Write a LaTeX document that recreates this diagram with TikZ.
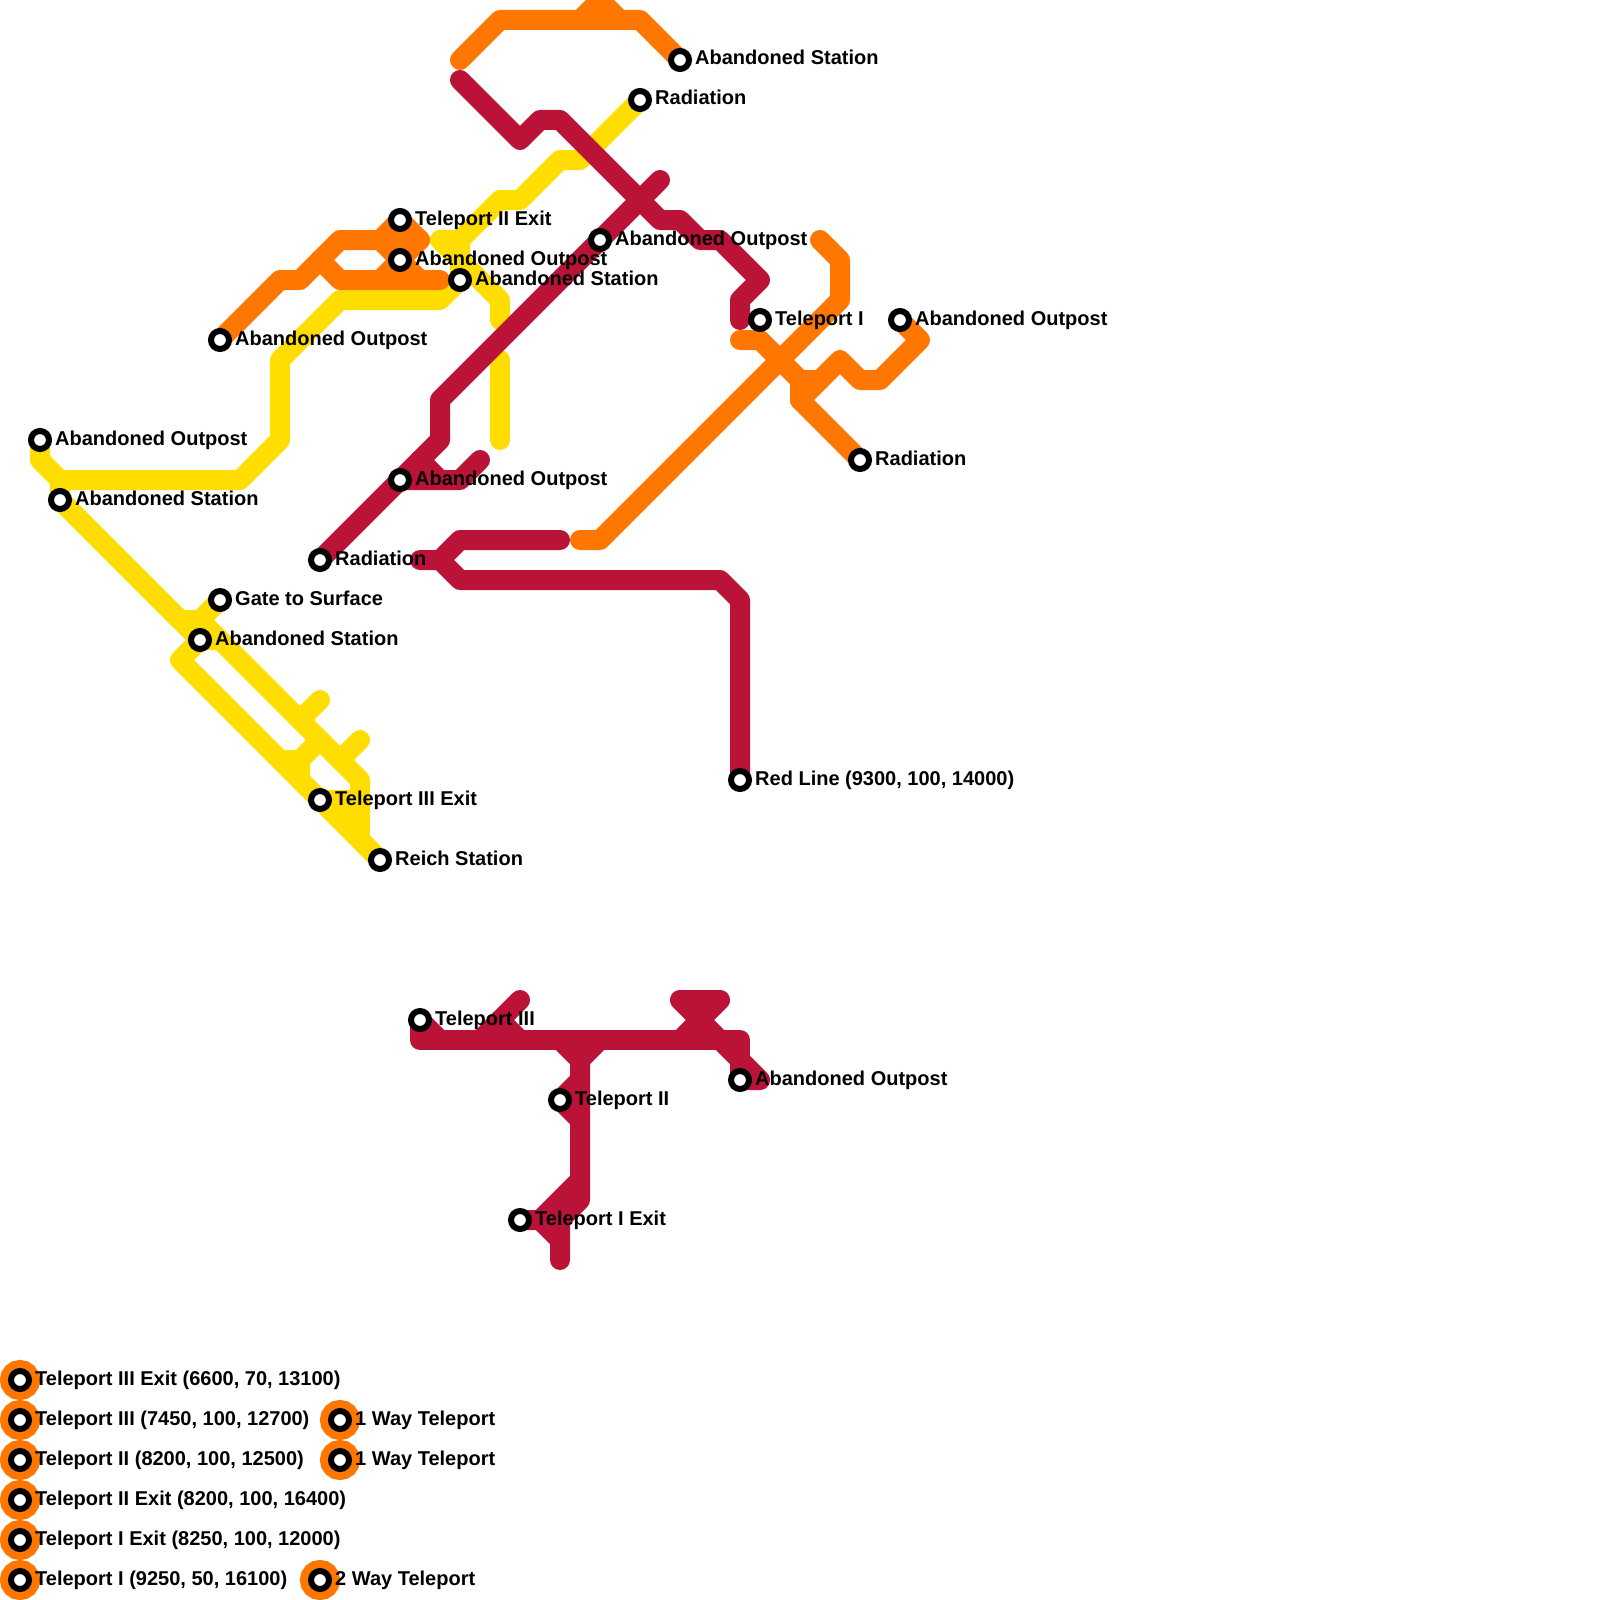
\documentclass[tikz,border=0pt]{standalone}
\usepackage{fontspec}
\setmainfont{Liberation Sans}
\usetikzlibrary{backgrounds}
\definecolor{lineyellow}{HTML}{FFDD00}
\definecolor{lineorange}{HTML}{FF7700}
\definecolor{linecrimson}{HTML}{BB1238}
\tikzset{
  metroline/.style={line width=20pt,line cap=round,line join=round},
  yellowline/.style={metroline,lineyellow},
  orangeline/.style={metroline,lineorange},
  crimsonline/.style={metroline,linecrimson},
  stn/.style={circle,draw=black,fill=white,line width=6pt,minimum size=18pt,inner sep=0pt},
  keystn/.style={stn,preaction={draw=lineorange,line width=22pt}},
  stnlabel/.style={anchor=base west,inner sep=0pt,xshift=15pt,yshift=-5pt,font=\fontsize{20}{24}\selectfont\bfseries}
}
\begin{document}
\begin{tikzpicture}[x=1pt,y=-1pt]
\useasboundingbox (0,0) rectangle (1600,1600);

\node[stn] (abstationnorth) at (680,60) {};
\node[stn] (radiationnorth) at (640,100) {};
\node[stn] (tpiiexit) at (400,220) {};
\node[stn] (outpostinner) at (400,260) {};
\node[stn] (outpostcentre) at (600,240) {};
\node[stn] (abstationinner) at (460,280) {};
\node[stn] (outposteast) at (900,320) {};
\node[stn] (tpi) at (760,320) {};
\node[stn] (outpostwest) at (220,340) {};
\node[stn] (outpostfar) at (40,440) {};
\node[stn] (radiationeast) at (860,460) {};
\node[stn] (outpostriver) at (400,480) {};
\node[stn] (abstationfar) at (60,500) {};
\node[stn] (radiationsouth) at (320,560) {};
\node[stn] (gate) at (220,600) {};
\node[stn] (abstationgate) at (200,640) {};
\node[stn] (redline) at (740,780) {};
\node[stn] (tpiiiexit) at (320,800) {};
\node[stn] (reich) at (380,860) {};
\node[stn] (tpiii) at (420,1020) {};
\node[stn] (outpostsouth) at (740,1080) {};
\node[stn] (tpii) at (560,1100) {};
\node[stn] (tpiexit) at (520,1220) {};

\begin{scope}[on background layer]
% yellow
\draw[yellowline] (radiationnorth.center) -- (580,160) -- (560,160) -- (520,200) -- (500,200) -- (460,240) -- (440,240) -- (500,300) -- (500,320);
\draw[yellowline] (500,360) -- (500,440);
\draw[yellowline] (460,240) -- (abstationinner.center) -- (440,300) -- (340,300) -- (280,360) -- (280,440) -- (240,480) -- (60,480) -- (40,460) -- (outpostfar.center);
\draw[yellowline] (60,480) -- (abstationfar.center) -- (180,620) -- (200,620) -- (gate.center);
\draw[yellowline] (abstationfar.center) -- (abstationgate.center) -- (180,660) -- (tpiiiexit.center) -- (reich.center);
\draw[yellowline] (abstationgate.center) -- (220,640);
\draw[yellowline] (200,620) -- (360,780) -- (360,840) -- (reich.center);
\draw[yellowline] (280,760) -- (300,760) -- (300,780);
\draw[yellowline] (300,760) -- (320,740);
\draw[yellowline] (320,700) -- (300,720);
\draw[yellowline] (360,740) -- (340,760);
\draw[yellowline] (tpiiiexit.center) -- (340,800) -- (360,820);
\draw[yellowline] (340,800) -- (360,800);
% orange
\draw[orangeline] (460,60) -- (500,20) -- (640,20) -- (abstationnorth.center);
\draw[orangeline] (580,20) -- (600,0) -- (620,20);
\draw[orangeline] (outpostwest.center) -- (280,280) -- (300,280) -- (340,240) -- (380,240) -- (tpiiexit.center) -- (420,240) -- (outpostinner.center) -- (380,280);
\draw[orangeline] (380,240) -- (420,240);
\draw[orangeline] (380,240) -- (outpostinner.center) -- (420,280);
\draw[orangeline] (320,260) -- (340,280) -- (440,280);
\draw[orangeline] (820,240) -- (840,260) -- (840,300) -- (600,540) -- (580,540);
\draw[orangeline] (740,340) -- (760,340) -- (800,380) -- (800,400) -- (radiationeast.center);
\draw[orangeline] (800,380) -- (820,380);
\draw[orangeline] (800,400) -- (840,360) -- (860,380) -- (880,380) -- (920,340) -- (outposteast.center);
% crimson
\draw[crimsonline] (460,80) -- (520,140) -- (540,120) -- (560,120) -- (660,220) -- (680,220) -- (700,240) -- (720,240) -- (760,280) -- (740,300) -- (740,320);
\draw[crimsonline] (660,180) -- (outpostcentre.center) -- (440,400) -- (440,440) -- (radiationsouth.center);
\draw[crimsonline] (420,460) -- (440,480);
\draw[crimsonline] (outpostriver.center) -- (460,480) -- (480,460);
\draw[crimsonline] (420,560) -- (440,560) -- (460,540) -- (560,540);
\draw[crimsonline] (440,560) -- (460,580) -- (720,580) -- (740,600) -- (redline.center);
\draw[crimsonline] (tpiii.center) -- (420,1040) -- (740,1040) -- (outpostsouth.center);
\draw[crimsonline] (tpiii.center) -- (440,1040);
\draw[crimsonline] (720,1040) -- (760,1080) -- (outpostsouth.center);
\draw[crimsonline] (480,1040) -- (520,1000);
\draw[crimsonline] (500,1020) -- (520,1040);
\draw[crimsonline] (720,1040) -- (680,1000) -- (720,1000) -- (680,1040);
\draw[crimsonline] (560,1040) -- (580,1060) -- (600,1040);
\draw[crimsonline] (580,1040) -- (580,1200) -- (560,1220) -- (560,1260);
\draw[crimsonline] (580,1180) -- (540,1220) -- (tpiexit.center);
\draw[crimsonline] (540,1220) -- (560,1240);
\draw[crimsonline] (580,1080) -- (tpii.center) -- (580,1120);
\end{scope}

% station names
\node[stnlabel] (abstationnorthtext) at (abstationnorth) {Abandoned Station};
\node[stnlabel] (radiationnorthtext) at (radiationnorth) {Radiation};
\node[stnlabel] (tpiiexittext) at (tpiiexit) {Teleport II Exit};
\node[stnlabel] (outpostinnertext) at (outpostinner) {Abandoned Outpost};
\node[stnlabel] (outpostcentretext) at (outpostcentre) {Abandoned Outpost};
\node[stnlabel] (abstationinnertext) at (abstationinner) {Abandoned Station};
\node[stnlabel] (outposteasttext) at (outposteast) {Abandoned Outpost};
\node[stnlabel] (tpitext) at (tpi) {Teleport I};
\node[stnlabel] (outpostwesttext) at (outpostwest) {Abandoned Outpost};
\node[stnlabel] (outpostfartext) at (outpostfar) {Abandoned Outpost};
\node[stnlabel] (radiationeasttext) at (radiationeast) {Radiation};
\node[stnlabel] (outpostrivertext) at (outpostriver) {Abandoned Outpost};
\node[stnlabel] (abstationfartext) at (abstationfar) {Abandoned Station};
\node[stnlabel] (radiationsouthtext) at (radiationsouth) {Radiation};
\node[stnlabel] (gatetext) at (gate) {Gate to Surface};
\node[stnlabel] (abstationgatetext) at (abstationgate) {Abandoned Station};
\node[stnlabel] (redlinetext) at (redline) {Red Line (9300, 100, 14000)};
\node[stnlabel] (tpiiiexittext) at (tpiiiexit) {Teleport III Exit};
\node[stnlabel] (reichtext) at (reich) {Reich Station};
\node[stnlabel] (tpiiitext) at (tpiii) {Teleport III};
\node[stnlabel] (outpostsouthtext) at (outpostsouth) {Abandoned Outpost};
\node[stnlabel] (tpiitext) at (tpii) {Teleport II};
\node[stnlabel] (tpiexittext) at (tpiexit) {Teleport I Exit};

% key
\node[keystn] (keya) at (20,1380) {};
\node[keystn] (keyb) at (20,1420) {};
\node[keystn] (keyc) at (20,1460) {};
\node[keystn] (keyd) at (20,1500) {};
\node[keystn] (keye) at (20,1540) {};
\node[keystn] (keyf) at (20,1580) {};
\node[keystn] (keyoneway) at (340,1420) {};
\node[keystn] (keyonewaytwo) at (340,1460) {};
\node[keystn] (keytwoway) at (320,1580) {};
\node[stnlabel] (keyatext) at (keya) {Teleport III Exit (6600, 70, 13100)};
\node[stnlabel] (keybtext) at (keyb) {Teleport III (7450, 100, 12700)};
\node[stnlabel] (keyctext) at (keyc) {Teleport II (8200, 100, 12500)};
\node[stnlabel] (keydtext) at (keyd) {Teleport II Exit (8200, 100, 16400)};
\node[stnlabel] (keyetext) at (keye) {Teleport I Exit (8250, 100, 12000)};
\node[stnlabel] (keyftext) at (keyf) {Teleport I (9250, 50, 16100)};
\node[stnlabel] (keyonewaytext) at (keyoneway) {1 Way Teleport};
\node[stnlabel] (keyonewaytwotext) at (keyonewaytwo) {1 Way Teleport};
\node[stnlabel] (keytwowaytext) at (keytwoway) {2 Way Teleport};
\end{tikzpicture}
\end{document}
